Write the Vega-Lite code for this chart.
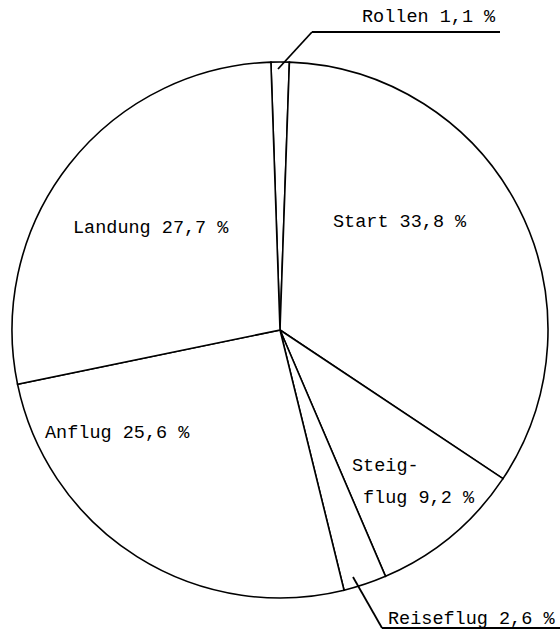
{
  "$schema": "https://vega.github.io/schema/vega-lite/v6.json",
  "width": 560,
  "height": 616,
  "autosize": {"type": "none"},
  "padding": {"left": 0, "top": 22, "right": 0, "bottom": 0},
  "background": "white",
  "config": {"view": {"stroke": null}},
  "datasets": {
    "slices": [
      {"phase": "Rollen", "pct": 1.1, "ord": 1},
      {"phase": "Start", "pct": 33.8, "ord": 2},
      {"phase": "Steigflug", "pct": 9.2, "ord": 3},
      {"phase": "Reiseflug", "pct": 2.6, "ord": 4},
      {"phase": "Anflug", "pct": 25.6, "ord": 5},
      {"phase": "Landung", "pct": 27.7, "ord": 6}
    ],
    "labels": [
      {"label": "Rollen 1,1 %", "x": 362, "y": 22},
      {"label": "Start 33,8 %", "x": 333, "y": 227},
      {"label": "Landung 27,7 %", "x": 73, "y": 233},
      {"label": "Anflug 25,6 %", "x": 45, "y": 438},
      {"label": "Steig-", "x": 352, "y": 471},
      {"label": "flug 9,2 %", "x": 363, "y": 503},
      {"label": "Reiseflug 2,6 %", "x": 388, "y": 624}
    ],
    "leaders": [
      {"x": 278, "y": 69, "x2": 312, "y2": 32},
      {"x": 312, "y": 32, "x2": 500, "y2": 32},
      {"x": 353, "y": 577, "x2": 382, "y2": 628},
      {"x": 382, "y": 628, "x2": 560, "y2": 628}
    ]
  },
  "layer": [
    {
      "data": {"name": "slices"},
      "mark": {"type": "arc", "outerRadius": 268, "fill": "white", "stroke": "black", "strokeWidth": 1.6},
      "encoding": {
        "theta": {"field": "pct", "type": "quantitative", "stack": true, "scale": {"range": [-0.034, 6.2492]}},
        "order": {"field": "ord", "type": "quantitative"}
      }
    },
    {
      "data": {"name": "leaders"},
      "mark": {"type": "rule", "stroke": "black", "strokeWidth": 1.8},
      "encoding": {
        "x": {"field": "x", "type": "quantitative", "scale": {"domain": [0, 560], "nice": false, "zero": false}, "axis": null},
        "y": {"field": "y", "type": "quantitative", "scale": {"domain": [22, 638], "nice": false, "zero": false, "reverse": true}, "axis": null},
        "x2": {"field": "x2"},
        "y2": {"field": "y2"}
      }
    },
    {
      "data": {"name": "labels"},
      "mark": {"type": "text", "align": "left", "baseline": "alphabetic", "font": "Liberation Mono", "fontSize": 18.5, "color": "black"},
      "encoding": {
        "x": {"field": "x", "type": "quantitative", "scale": {"domain": [0, 560], "nice": false, "zero": false}, "axis": null},
        "y": {"field": "y", "type": "quantitative", "scale": {"domain": [22, 638], "nice": false, "zero": false, "reverse": true}, "axis": null},
        "text": {"field": "label"}
      }
    }
  ]
}
